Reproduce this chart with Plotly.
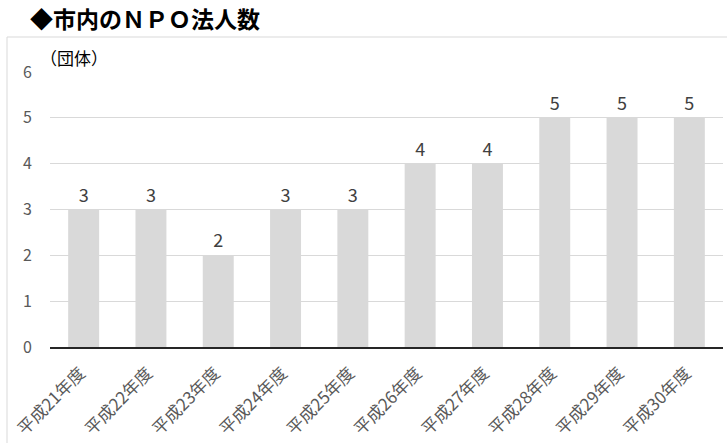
import plotly.graph_objects as go

categories = ["平成21年度", "平成22年度", "平成23年度", "平成24年度", "平成25年度",
              "平成26年度", "平成27年度", "平成28年度", "平成29年度", "平成30年度"]
values = [3, 3, 2, 3, 3, 4, 4, 5, 5, 5]
y_ticks = [0, 1, 2, 3, 4, 5, 6]

FONT = "Noto Sans CJK JP"
W, H = 727, 443
L, R, T, B = 50, 4, 72, 96
pw, ph = W - L - R, H - T - B
LABEL_SHIFT = 0.05  # category units, shifts rotated labels left

fig = go.Figure()
fig.add_trace(go.Bar(
    x=categories, y=values,
    marker=dict(color="#d9d9d9", line=dict(width=0)),
    text=[str(v) for v in values], textposition="outside",
    textfont=dict(family=FONT, size=18, color="#404040"),
    cliponaxis=False, hoverinfo="skip",
))
# invisible carrier trace for the label axis
fig.add_trace(go.Scatter(
    x=categories, y=values, xaxis="x2", mode="markers",
    marker=dict(opacity=0), hoverinfo="skip", showlegend=False,
))

def px_x(p):
    return (p - L) / pw

def px_y(p):
    return 1 - (p - T) / ph

n = len(categories)
fig.update_layout(
    width=W, height=H,
    margin=dict(l=L, r=R, t=T, b=B, autoexpand=False),
    paper_bgcolor="white", plot_bgcolor="white",
    bargap=0.54,
    showlegend=False,
    font=dict(family=FONT, color="#595959"),
    xaxis=dict(type="category", range=[-0.5, n - 0.5], showticklabels=False,
               showline=True, linecolor="#262626", linewidth=1.5, ticks="",
               showgrid=False, zeroline=False, automargin=False),
    xaxis2=dict(type="category", overlaying="x", anchor="y", side="bottom",
                categoryarray=categories, categoryorder="array",
                range=[-0.5 + LABEL_SHIFT, n - 0.5 + LABEL_SHIFT],
                tickangle=-45, tickfont=dict(family=FONT, size=17, color="#595959"),
                ticklabelstandoff=12, showline=False, ticks="", showgrid=False,
                zeroline=False, automargin=False),
    yaxis=dict(range=[0, 6], tickvals=y_ticks, tickfont=dict(family=FONT, size=16, color="#595959"),
               showgrid=True, gridcolor="#d9d9d9", gridwidth=1, zeroline=False,
               ticks="", ticklabelstandoff=17, showline=False, automargin=False),
    shapes=[dict(type="rect", xref="paper", yref="paper",
                 x0=px_x(7), x1=px_x(740), y0=px_y(460), y1=px_y(37),
                 line=dict(color="#d9d9d9", width=1), fillcolor="rgba(0,0,0,0)", layer="below")],
    annotations=[
        dict(text="<b>◆市内のＮＰＯ法人数</b>", xref="paper", yref="paper",
             x=px_x(28), y=px_y(18), xanchor="left", yanchor="middle", showarrow=False,
             font=dict(family=FONT, size=23, color="#000000")),
        dict(text="（団体）", xref="paper", yref="paper",
             x=px_x(38), y=px_y(58), xanchor="left", yanchor="middle", showarrow=False,
             font=dict(family=FONT, size=17, color="#000000")),
    ],
)

fig.write_html("out.html", config={"displayModeBar": False},
               post_script="document.body.style.margin='0px';document.body.style.overflow='hidden';")
